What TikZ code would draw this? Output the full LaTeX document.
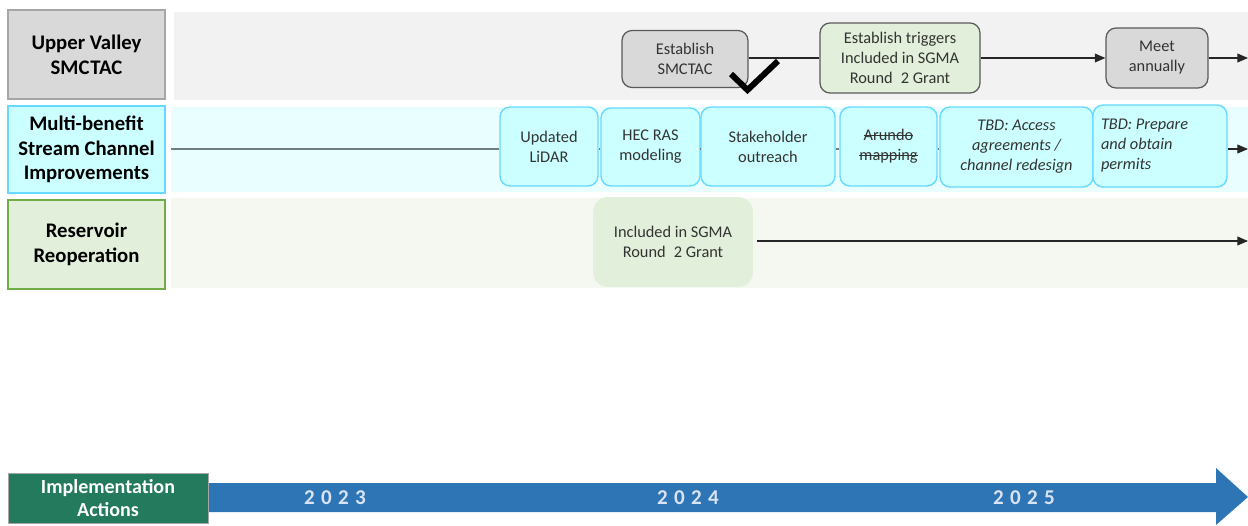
\documentclass[tikz,border=0pt]{standalone}
\usepackage{fontspec}
\setmainfont{Carlito}
\newfontfamily\yearfont[LetterSpace=30]{Carlito}
\newcommand\mystrike[1]{\setbox0=\hbox{#1}\rlap{\rule[0.3em]{\wd0}{0.5pt}}\box0}
\frenchspacing
\usetikzlibrary{arrows.meta}
\definecolor{gfill}{HTML}{D9D9D9}
\definecolor{gborder}{HTML}{A6A6A6}
\definecolor{gdark}{HTML}{595959}
\definecolor{cfill}{HTML}{CCFFFF}
\definecolor{cborder}{HTML}{66D9FF}
\definecolor{lfill}{HTML}{E2EFDA}
\definecolor{lborder}{HTML}{70AD47}
\definecolor{lane1}{HTML}{F2F2F2}
\definecolor{lane2}{HTML}{E9FFFF}
\definecolor{lane3}{HTML}{F4F8F0}
\definecolor{txt}{HTML}{333333}
\definecolor{implg}{HTML}{237A5D}
\definecolor{barblue}{HTML}{2E75B6}
\definecolor{yeartxt}{HTML}{DAE3F3}
\definecolor{conn}{HTML}{262626}
\definecolor{lgray}{HTML}{6F7F7F}
\tikzset{
  lanelabel/.style={draw, line width=0.8pt, inner sep=0pt, align=center,
    font=\bfseries\fontsize{11.8}{14}\selectfont, text=black,
    minimum width=3.14cm},
  evbox/.style={rounded corners=0.2cm, inner sep=0pt, align=center,
    font=\fontsize{9.3}{11.4}\selectfont, text=txt},
  graybox/.style={evbox, draw=gdark, fill=gfill, line width=0.7pt},
  greenbox/.style={evbox, draw=gdark, fill=lfill, line width=0.7pt},
  cyanbox/.style={evbox, draw=cborder, fill=cfill, line width=0.8pt, minimum height=1.58cm},
  arr/.style={draw=conn, line width=0.6pt, -{Triangle[length=6pt,width=5pt]}},
  plain/.style={draw=conn, line width=0.6pt},
  yearlbl/.style={text=yeartxt, font=\yearfont\bfseries\fontsize{12}{14}\selectfont},
}
\begin{document}
\begin{tikzpicture}[x=0.02cm, y=-0.02cm]
\useasboundingbox (0,0) rectangle (1248,525);
% lane backgrounds
\fill[lane1] (174,12) rectangle (1248,100);
\fill[lane2] (171,107) rectangle (1248,192);
\fill[lane3] (171,198) rectangle (1248,288);
% lane labels
\node[lanelabel, draw=gborder, fill=gfill, minimum height=1.78cm] (lab1) at (86.5,54.5) {Upper Valley\\SMC\kern0.5pt TAC};
\node[lanelabel, draw=cborder, fill=cfill, minimum height=1.74cm] (lab2) at (86.5,149.5) {Multi-benefit\\Stream Channel\\Improvements};
\node[lanelabel, draw=lborder, fill=lfill, minimum height=1.78cm] (lab3) at (86.5,244.5) {Reservoir\\Reoperation};
% row 1
\node[graybox, minimum width=2.52cm, minimum height=1.14cm] (est) at (685,59) {Establish\\SMCTAC};
\node[greenbox, minimum width=3.2cm, minimum height=1.4cm] (trig) at (900,58) {Establish triggers\\Included in SGMA\\Round\enspace2 Grant};
\node[graybox, minimum width=2.04cm, minimum height=1.2cm] (meet) at (1157,58) {Meet\\annually};
\coordinate (end1) at (1248,58);
\draw[plain] (est.east |- trig.west) -- (trig.west);
\draw[arr] (trig.east) -- (meet.west);
\draw[arr] (meet.east) -- (end1);
\draw[line width=3.4pt, black] (731,74) -- (747.5,90) -- (778,61);
% row 2
\coordinate (start2) at (171,149);
\coordinate (end2) at (1248,149);
\node[cyanbox, minimum width=1.96cm] (lidar) at (549,146.5) {Updated\\LiDAR};
\node[cyanbox, minimum width=1.98cm, minimum height=1.56cm] (hec) at (650.5,147) {HEC RAS\\modeling};
\node[cyanbox, minimum width=2.68cm] (stake) at (768,146.5) {Stakeholder\\outreach};
\node[cyanbox, minimum width=1.94cm] (arundo) at (888.5,146.5) {\mystrike{Arundo}\\\mystrike{mapping}};
\node[cyanbox, minimum width=3.06cm, minimum height=1.6cm, font=\itshape\fontsize{9.3}{11.4}\selectfont] (access) at (1016.5,147) {TBD: Access\\agreements /\\channel redesign};
\node[cyanbox, minimum width=2.68cm, minimum height=1.64cm, text width=2.36cm, align=flush left, font=\itshape\fontsize{9.3}{11.4}\selectfont] (prep) at (1160,146) {TBD: Prepare\\and obtain\\permits};
\draw[lgray, line width=1pt] (start2) -- (start2 -| lidar.west);
\draw[lgray, line width=0.6pt] (lidar.east |- start2) -- (hec.west |- start2);
\draw[lgray, line width=0.6pt] (hec.east |- start2) -- (stake.west |- start2);
\draw[lgray, line width=0.6pt] (stake.east |- start2) -- (arundo.west |- start2);
\draw[lgray, line width=0.6pt] (arundo.east |- start2) -- (access.west |- start2);
\draw[arr] (prep.east |- end2) -- (end2);
% row 3
\node[evbox, fill=lfill, rounded corners=0.3cm, minimum width=3.2cm, minimum height=1.8cm] (grant) at (673,242) {Included in SGMA\\Round\enspace2 Grant};
\coordinate (end3) at (1248,241);
\draw[arr] ([xshift=0.08cm]grant.east |- end3) -- (end3);
% bottom timeline
\fill[barblue] (200,483) -- (1216,483) -- (1216,468) -- (1248,497) -- (1216,525) -- (1216,512) -- (200,512) -- cycle;
\node[fill=implg, draw=gborder, line width=0.4pt, inner sep=0pt, minimum width=4.0cm, minimum height=1.0cm, align=center, text=white, font=\bfseries\fontsize{11.4}{13.6}\selectfont] (impl) at (108,498) {Implementation\\Actions};
\node[yearlbl] (y23) at (335,498) {2023};
\node[yearlbl] (y24) at (688,498) {2024};
\node[yearlbl] (y25) at (1024,498) {2025};
\end{tikzpicture}
\end{document}
